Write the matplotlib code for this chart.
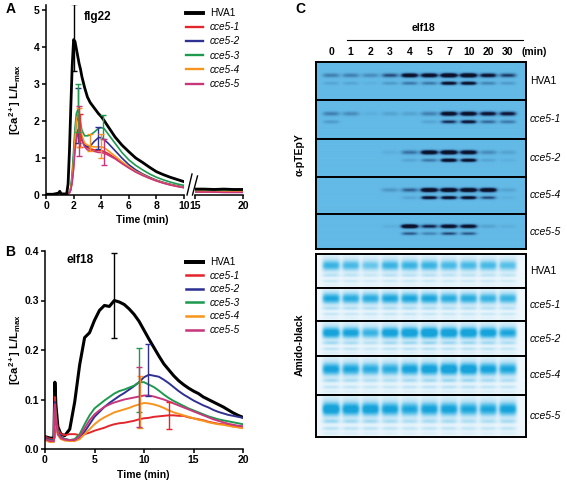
import numpy as np
import matplotlib
matplotlib.use('Agg')
import matplotlib.pyplot as plt
from matplotlib.colors import LinearSegmentedColormap
from matplotlib.lines import Line2D
import matplotlib.transforms as mtransforms

plt.rcParams['font.family'] = ['Liberation Sans', 'DejaVu Sans']
plt.rcParams['mathtext.fontset'] = 'custom'
plt.rcParams['mathtext.rm'] = 'Liberation Sans:bold'
plt.rcParams['mathtext.bf'] = 'Liberation Sans:bold'
plt.rcParams['mathtext.it'] = 'Liberation Sans:italic'

# ---------------- data ----------------
series_names = ['HVA1', 'cce5-1', 'cce5-2', 'cce5-3', 'cce5-4', 'cce5-5']
series_colors = ['#000000', '#e3262b', '#2e3192', '#1e9a4f', '#f7941d', '#c8377c']

# Panel A (flg22), 0-10 min segment
tA = [0, 0.5, 0.9, 1.0, 1.1, 1.5, 1.6, 1.7, 1.8, 1.9, 2.0, 2.1, 2.2, 2.3, 2.4, 2.5, 2.6, 2.8,
      3.0, 3.2, 3.5, 3.8, 4.0, 4.2, 4.5, 5.0, 5.5, 6.0, 6.5, 7.0, 7.5, 8.0, 8.5, 9.0, 9.5, 10.0]
A_hva1 = [0.02, 0.02, 0.05, 0.10, 0.03, 0.03, 0.30, 1.20, 2.40, 3.50, 4.20, 4.15, 3.95, 3.75, 3.55, 3.40, 3.20, 2.90,
          2.65, 2.50, 2.35, 2.20, 2.12, 2.02, 1.85, 1.57, 1.35, 1.17, 1.00, 0.88, 0.75, 0.63, 0.55, 0.48, 0.42, 0.36]
A_c1 = [0.02, 0.02, 0.04, 0.08, 0.03, 0.02, 0.03, 0.06, 0.15, 0.40, 0.80, 1.30, 1.60, 1.75, 1.80, 1.70, 1.50, 1.35,
        1.28, 1.25, 1.22, 1.20, 1.20, 1.18, 1.12, 1.00, 0.87, 0.75, 0.63, 0.54, 0.46, 0.39, 0.33, 0.28, 0.24, 0.20]
A_c2 = [0.02, 0.02, 0.04, 0.08, 0.03, 0.02, 0.03, 0.07, 0.18, 0.50, 1.00, 1.60, 2.00, 2.10, 2.00, 1.75, 1.50, 1.35,
        1.30, 1.32, 1.45, 1.55, 1.55, 1.50, 1.40, 1.20, 1.00, 0.82, 0.68, 0.57, 0.48, 0.40, 0.34, 0.29, 0.25, 0.21]
A_c3 = [0.02, 0.02, 0.04, 0.08, 0.03, 0.02, 0.03, 0.08, 0.20, 0.60, 1.20, 1.80, 2.20, 2.30, 2.20, 1.95, 1.75, 1.60,
        1.60, 1.62, 1.70, 1.80, 1.82, 1.80, 1.65, 1.40, 1.15, 0.95, 0.80, 0.68, 0.57, 0.48, 0.41, 0.35, 0.30, 0.26]
A_c4 = [0.02, 0.02, 0.04, 0.08, 0.03, 0.02, 0.03, 0.07, 0.17, 0.45, 0.90, 1.50, 2.00, 2.15, 2.10, 1.85, 1.60, 1.40,
        1.35, 1.32, 1.30, 1.30, 1.30, 1.28, 1.20, 1.05, 0.90, 0.76, 0.64, 0.55, 0.46, 0.39, 0.33, 0.28, 0.24, 0.20]
A_c5 = [0.02, 0.02, 0.04, 0.08, 0.03, 0.02, 0.03, 0.06, 0.14, 0.35, 0.70, 1.20, 1.50, 1.65, 1.72, 1.65, 1.48, 1.30,
        1.22, 1.20, 1.18, 1.15, 1.15, 1.13, 1.08, 0.98, 0.85, 0.73, 0.62, 0.53, 0.45, 0.38, 0.32, 0.27, 0.23, 0.20]
A_values = [A_hva1, A_c1, A_c2, A_c3, A_c4, A_c5]

# Panel A, 15-20 min segment
tA2 = [15, 16, 17, 18, 19, 20]
A2_values = [[0.16, 0.16, 0.15, 0.16, 0.15, 0.15],
             [0.09, 0.09, 0.09, 0.08, 0.08, 0.08],
             [0.11, 0.11, 0.10, 0.10, 0.10, 0.10],
             [0.12, 0.12, 0.12, 0.11, 0.11, 0.11],
             [0.10, 0.10, 0.09, 0.09, 0.09, 0.09],
             [0.08, 0.08, 0.08, 0.07, 0.07, 0.07]]

# Panel A error bars: (time, low, high) per series
A_err = [[(2.0, 3.35, 5.15)],
         [(2.45, 1.30, 2.20)],
         [(2.3, 1.40, 2.88), (3.8, 1.25, 1.85)],
         [(2.3, 1.70, 3.00), (4.1, 1.50, 2.15)],
         [(2.4, 1.30, 2.35), (3.2, 1.20, 1.65), (4.0, 1.00, 1.65)],
         [(2.4, 1.05, 2.40), (4.2, 0.80, 1.50)]]

# Panel B (elf18)
tB = [0, 0.5, 0.9, 1.0, 1.1, 1.3, 1.6, 2.0, 2.5, 3.0, 3.5, 4.0, 4.5, 5.0, 5.5, 6.0, 6.5, 7.0, 7.5, 8.0, 8.5, 9.0,
      9.5, 10.0, 10.5, 11.0, 11.5, 12.0, 12.5, 13.0, 13.5, 14.0, 14.5, 15.0, 15.5, 16.0, 16.5, 17.0, 17.5, 18.0,
      18.5, 19.0, 19.5, 20.0]
B_hva1 = [0.025, 0.022, 0.022, 0.135, 0.090, 0.045, 0.030, 0.027, 0.040, 0.095, 0.170, 0.225, 0.235, 0.260, 0.280,
          0.290, 0.288, 0.300, 0.297, 0.292, 0.283, 0.272, 0.258, 0.240, 0.222, 0.205, 0.188, 0.172, 0.160, 0.148,
          0.138, 0.130, 0.123, 0.117, 0.112, 0.105, 0.100, 0.095, 0.090, 0.085, 0.079, 0.073, 0.068, 0.064]
B_c1 = [0.025, 0.020, 0.020, 0.105, 0.070, 0.040, 0.030, 0.028, 0.030, 0.030, 0.028, 0.030, 0.033, 0.037, 0.040,
        0.043, 0.047, 0.050, 0.052, 0.053, 0.055, 0.057, 0.060, 0.062, 0.063, 0.065, 0.066, 0.067, 0.068, 0.068,
        0.067, 0.067, 0.064, 0.062, 0.060, 0.058, 0.055, 0.053, 0.051, 0.050, 0.048, 0.046, 0.044, 0.043]
B_c2 = [0.022, 0.018, 0.018, 0.095, 0.060, 0.035, 0.025, 0.020, 0.018, 0.018, 0.022, 0.035, 0.050, 0.065, 0.075,
        0.085, 0.093, 0.100, 0.107, 0.113, 0.120, 0.127, 0.135, 0.145, 0.150, 0.148, 0.146, 0.140, 0.133, 0.125,
        0.117, 0.110, 0.104, 0.098, 0.093, 0.088, 0.084, 0.079, 0.075, 0.072, 0.069, 0.067, 0.065, 0.063]
B_c3 = [0.020, 0.017, 0.017, 0.090, 0.055, 0.032, 0.023, 0.020, 0.018, 0.020, 0.030, 0.050, 0.068, 0.082, 0.090,
        0.098, 0.105, 0.112, 0.117, 0.120, 0.124, 0.128, 0.135, 0.135, 0.130, 0.125, 0.118, 0.110, 0.103, 0.097,
        0.092, 0.087, 0.082, 0.078, 0.074, 0.070, 0.066, 0.063, 0.060, 0.058, 0.056, 0.054, 0.052, 0.050]
B_c4 = [0.018, 0.014, 0.014, 0.085, 0.050, 0.028, 0.020, 0.017, 0.016, 0.016, 0.020, 0.030, 0.040, 0.050, 0.058,
        0.064, 0.069, 0.074, 0.077, 0.080, 0.083, 0.087, 0.090, 0.093, 0.092, 0.090, 0.087, 0.083, 0.078, 0.074,
        0.071, 0.068, 0.065, 0.062, 0.059, 0.057, 0.054, 0.052, 0.050, 0.049, 0.047, 0.045, 0.044, 0.042]
B_c5 = [0.020, 0.016, 0.016, 0.090, 0.055, 0.030, 0.022, 0.019, 0.018, 0.018, 0.025, 0.042, 0.058, 0.070, 0.078,
        0.085, 0.090, 0.094, 0.097, 0.100, 0.102, 0.104, 0.106, 0.108, 0.108, 0.106, 0.103, 0.100, 0.096, 0.092,
        0.088, 0.084, 0.080, 0.076, 0.072, 0.068, 0.064, 0.060, 0.057, 0.054, 0.051, 0.049, 0.047, 0.046]
B_values = [B_hva1, B_c1, B_c2, B_c3, B_c4, B_c5]

B_err = [[(7.0, 0.225, 0.395)],
         [(12.5, 0.040, 0.095)],
         [(10.4, 0.108, 0.213)],
         [(9.5, 0.075, 0.205)],
         [(9.6, 0.043, 0.148)],
         [(9.5, 0.045, 0.165)]]

# Panel C (blots)
lane_labels = ['0', '1', '2', '3', '4', '5', '7', '10', '20', '30']
blot_rows = ['HVA1', 'cce5-1', 'cce5-2', 'cce5-4', 'cce5-5']
ptepy_upper = [[0.25, 0.25, 0.20, 0.40, 0.85, 0.85, 1.00, 1.00, 0.70, 0.45],
               [0.25, 0.20, 0.05, 0.10, 0.10, 0.25, 0.85, 0.85, 0.70, 0.65],
               [0.00, 0.00, 0.00, 0.05, 0.30, 0.90, 1.00, 0.85, 0.20, 0.10],
               [0.00, 0.00, 0.00, 0.15, 0.35, 1.00, 1.00, 1.00, 0.95, 0.10],
               [0.00, 0.00, 0.00, 0.05, 1.00, 0.55, 0.85, 0.80, 0.10, 0.05]]
ptepy_lower = [[0.10, 0.10, 0.05, 0.15, 0.30, 0.30, 0.85, 0.85, 0.25, 0.15],
               [0.15, 0.00, 0.00, 0.00, 0.00, 0.10, 0.55, 0.75, 0.35, 0.30],
               [0.00, 0.00, 0.00, 0.00, 0.10, 0.30, 0.95, 0.85, 0.10, 0.05],
               [0.00, 0.00, 0.00, 0.00, 0.10, 0.80, 0.85, 0.85, 0.45, 0.05],
               [0.00, 0.00, 0.00, 0.00, 0.40, 0.25, 0.45, 0.40, 0.00, 0.00]]
amido_main = [[0.60, 0.55, 0.45, 0.60, 0.60, 0.60, 0.55, 0.55, 0.55, 0.50],
              [0.70, 0.65, 0.65, 0.70, 0.70, 0.70, 0.65, 0.65, 0.60, 0.60],
              [0.80, 0.75, 0.60, 0.80, 0.85, 0.90, 0.85, 0.85, 0.80, 0.70],
              [0.75, 0.70, 0.65, 0.65, 0.75, 0.80, 0.85, 0.85, 0.75, 0.70],
              [0.85, 0.80, 0.80, 0.75, 0.70, 0.75, 0.75, 0.70, 0.70, 0.75]]

# ---------------- figure ----------------
W, H = 567, 483
fig = plt.figure(figsize=(W / 100, H / 100), dpi=100)


def ax_px(x0, y0, x1, y1):
    return fig.add_axes([x0 / W, 1 - y1 / H, (x1 - x0) / W, (y1 - y0) / H])


def fx(px):
    return px / W


def fy(py):
    return 1 - py / H


TICK_FS = 7.5
LAB_FS = 7.5
LEG_FS = 7.2


def style_axis(ax):
    for s in ['top', 'right']:
        ax.spines[s].set_visible(False)
    for s in ['left', 'bottom']:
        ax.spines[s].set_linewidth(1.1)
    ax.tick_params(direction='out', length=3, width=1.1, labelsize=TICK_FS, pad=1.5)
    for lab in ax.get_xticklabels() + ax.get_yticklabels():
        lab.set_fontweight('bold')


lws = [2.0, 1.2, 1.2, 1.2, 1.2, 1.2]

# ---- Panel A ----
axA = ax_px(46, 5, 184, 195)
axA2 = ax_px(195, 5, 243, 195)
handles = []
for i in range(6):
    ln, = axA.plot(tA, A_values[i], color=series_colors[i], lw=lws[i], zorder=3 if i == 0 else 2)
    handles.append(ln)
    axA2.plot(tA2, A2_values[i], color=series_colors[i], lw=lws[i], zorder=3 if i == 0 else 2)
    for (t, lo, hi) in A_err[i]:
        yv = float(np.interp(t, tA, A_values[i]))
        axA.errorbar([t], [yv], yerr=[[yv - lo], [hi - yv]], fmt='none', ecolor=series_colors[i],
                     elinewidth=1.0, capsize=2.5, capthick=1.0, zorder=4)
axA.set_xlim(0, 10)
axA.set_ylim(0, 5.135)
axA.set_xticks([0, 2, 4, 6, 8, 10])
axA.set_yticks([0, 1, 2, 3, 4, 5])
axA2.set_xlim(15, 20)
axA2.set_ylim(0, 5.135)
axA2.set_xticks([15, 20])
axA2.set_yticks([])
style_axis(axA)
style_axis(axA2)
axA2.spines['left'].set_visible(False)
axA.patch.set_alpha(0)
axA2.patch.set_alpha(0)
# axis break marks
for (x0, y0, x1, y1) in [(187, 195, 192, 174), (192.5, 195, 197.5, 176)]:
    fig.add_artist(Line2D([fx(x0), fx(x1)], [fy(y0), fy(y1)], transform=fig.transFigure,
                          color='black', lw=1.0))

legA = fig.legend(handles, series_names, loc='upper left', bbox_to_anchor=(fx(186), fy(8)),
                  frameon=False, fontsize=LEG_FS, handlelength=1.7, handletextpad=0.7,
                  labelspacing=0.42, borderpad=0, borderaxespad=0)
for t in legA.get_texts()[1:]:
    t.set_fontstyle('italic')
for h in legA.legend_handles:
    h.set_linewidth(h.get_linewidth() * 1.4)

fig.text(fx(98), fy(17), 'flg22', fontsize=8.5, fontweight='bold', ha='center', va='center')
fig.text(fx(15), fy(100), r'[Ca$^{2+}$] L/L$_{\mathbf{max}}$', fontsize=8, fontweight='bold',
         rotation=90, ha='center', va='center')
fig.text(fx(142), fy(220), 'Time (min)', fontsize=LAB_FS, fontweight='bold', ha='center', va='center')
fig.text(fx(11), fy(9), 'A', fontsize=10, fontweight='bold', ha='center', va='center')

# ---- Panel B ----
axB = ax_px(45, 251, 243, 449)
hB = []
for i in range(6):
    ln, = axB.plot(tB, B_values[i], color=series_colors[i], lw=lws[i] + 0.2)
    hB.append(ln)
    for (t, lo, hi) in B_err[i]:
        yv = float(np.interp(t, tB, B_values[i]))
        axB.errorbar([t], [yv], yerr=[[yv - lo], [hi - yv]], fmt='none', ecolor=series_colors[i],
                     elinewidth=1.0, capsize=2.5, capthick=1.0, zorder=4)
axB.set_xlim(0, 20)
axB.set_ylim(0, 0.4)
axB.set_xticks([0, 5, 10, 15, 20])
axB.set_yticks([0.0, 0.1, 0.2, 0.3, 0.4])
axB.set_yticklabels(['0.0', '0.1', '0.2', '0.3', '0.4'])
style_axis(axB)
axB.patch.set_alpha(0)
legB = fig.legend(hB, series_names, loc='upper left', bbox_to_anchor=(fx(186), fy(257)),
                  frameon=False, fontsize=LEG_FS, handlelength=1.7, handletextpad=0.7,
                  labelspacing=0.36, borderpad=0, borderaxespad=0)
for t in legB.get_texts()[1:]:
    t.set_fontstyle('italic')
for h in legB.legend_handles:
    h.set_linewidth(h.get_linewidth() * 1.3)

fig.text(fx(80), fy(260), 'elf18', fontsize=8.5, fontweight='bold', ha='center', va='center')
fig.text(fx(15), fy(350), r'[Ca$^{2+}$] L/L$_{\mathbf{max}}$', fontsize=8, fontweight='bold',
         rotation=90, ha='center', va='center')
fig.text(fx(143), fy(475), 'Time (min)', fontsize=LAB_FS, fontweight='bold', ha='center', va='center')
fig.text(fx(10), fy(252), 'B', fontsize=10, fontweight='bold', ha='center', va='center')

# ---- Panel C ----
XL = (-0.763, 9.915)
nx, ny = 420, 90
xs = np.linspace(XL[0], XL[1], nx)
ys = np.linspace(0, 1, ny)
X, Y = np.meshgrid(xs, ys)


def band_layer(amps, yc, wy, xw, gain, p=4):
    img = np.zeros_like(X)
    for i, a in enumerate(amps):
        img += gain * a * np.exp(-np.abs((X - i) / xw) ** p) * np.exp(-((Y - yc) / wy) ** 2)
    return img


cm_p = LinearSegmentedColormap.from_list('ptepy', ['#63bae6', '#3f7fb0', '#15244a', '#0b1226'])
cm_a = LinearSegmentedColormap.from_list('amido', ['#eef7fc', '#b4e0f4', '#5ec3ea', '#17a3da'])

p_bounds = [62, 100, 139, 177, 214, 249]
a_bounds = [254, 288, 321, 356, 395, 437]
BX0, BX1 = 316, 526

p_axes = []
for r in range(5):
    ax = ax_px(BX0, p_bounds[r], BX1, p_bounds[r + 1])
    img = band_layer(ptepy_upper[r], 0.35, 0.055, 0.43, 1.35) + band_layer(ptepy_lower[r], 0.56, 0.045, 0.41, 1.25)
    ax.imshow(np.clip(img, 0, 1), cmap=cm_p, vmin=0, vmax=1, aspect='auto', origin='upper',
              extent=(XL[0], XL[1], 1, 0), interpolation='bilinear')
    ax.set_xlim(*XL)
    ax.set_ylim(1, 0)
    ax.set_xticks([])
    ax.set_yticks([])
    for s in ax.spines.values():
        s.set_linewidth(1.4)
    p_axes.append(ax)
    fig.text(fx(530), fy((p_bounds[r] + p_bounds[r + 1]) / 2), blot_rows[r], fontsize=7.5,
             fontstyle='normal' if r == 0 else 'italic', ha='left', va='center')

for r in range(5):
    ax = ax_px(BX0, a_bounds[r], BX1, a_bounds[r + 1])
    amps = amido_main[r]
    img = (band_layer(amps, 0.34, 0.16, 0.46, 1.25, p=6)
           + band_layer([a * 0.20 for a in amps], 0.20, 0.30, 0.46, 1.0, p=6)
           + band_layer([a * 0.45 for a in amps], 0.63, 0.055, 0.44, 1.0)
           + band_layer([a * 0.35 for a in amps], 0.80, 0.05, 0.44, 1.0)
           + band_layer([a * 0.15 for a in amps], 0.92, 0.04, 0.44, 1.0))
    ax.imshow(np.clip(img, 0, 1), cmap=cm_a, vmin=0, vmax=1, aspect='auto', origin='upper',
              extent=(XL[0], XL[1], 1, 0), interpolation='bilinear')
    ax.set_xlim(*XL)
    ax.set_ylim(1, 0)
    ax.set_xticks([])
    ax.set_yticks([])
    for s in ax.spines.values():
        s.set_linewidth(1.4)
    fig.text(fx(530), fy((a_bounds[r] + a_bounds[r + 1]) / 2), blot_rows[r], fontsize=7.5,
             fontstyle='normal' if r == 0 else 'italic', ha='left', va='center')

# lane labels
trans = mtransforms.blended_transform_factory(p_axes[0].transData, fig.transFigure)
for i, lab in enumerate(lane_labels):
    p_axes[0].text(i, fy(52), lab, transform=trans, fontsize=7.5, fontweight='bold',
                   ha='center', va='center')
fig.text(fx(522), fy(52), '(min)', fontsize=7.5, fontweight='bold', ha='left', va='center')
fig.text(fx(423), fy(28), 'elf18', fontsize=7.5, fontweight='bold', ha='center', va='center')
fig.add_artist(Line2D([fx(347), fx(523)], [fy(40), fy(40)], transform=fig.transFigure,
                      color='black', lw=0.8))
fig.text(fx(300), fy(155), 'α-pTEpY', fontsize=7.5, fontweight='bold', rotation=90,
         ha='center', va='center')
fig.text(fx(300), fy(345), 'Amido-black', fontsize=7.5, fontweight='bold', rotation=90,
         ha='center', va='center')
fig.text(fx(300), fy(9), 'C', fontsize=10, fontweight='bold', ha='center', va='center')

fig.savefig('out.png', dpi=100)
